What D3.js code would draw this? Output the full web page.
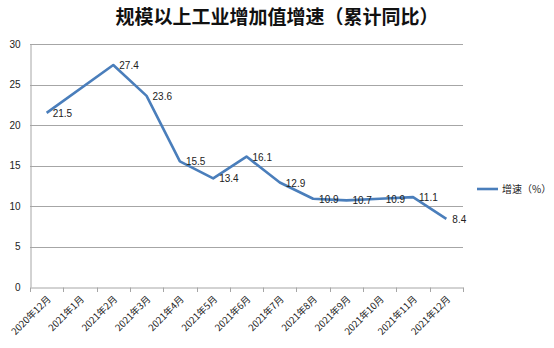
<!DOCTYPE html>
<html><head><meta charset="utf-8">
<script src="https://cdn.jsdelivr.net/npm/d3@7"></script>
<style>body{margin:0;background:#fff}svg{display:block}</style>
</head><body>
<script>
const categories = ["2020年12月","2021年1月","2021年2月","2021年3月","2021年4月","2021年5月","2021年6月","2021年7月","2021年8月","2021年9月","2021年10月","2021年11月","2021年12月"];
const values = [21.5, null, 27.4, 23.6, 15.5, 13.4, 16.1, 12.9, 10.9, 10.7, 10.9, 11.1, 8.4];
const yTicks = [0,5,10,15,20,25,30];
const seriesName = "增速（%）";
const title = "规模以上工业增加值增速（累计同比）";

const W = 554, H = 348;
const svg = d3.select("body").append("svg").attr("width", W).attr("height", H);
const x = d3.scaleBand().domain(categories).range([30, 463]);
const y = d3.scaleLinear().domain([0, 30]).range([287, 44]);
const font = "'Liberation Sans', Arial, sans-serif";

svg.append("text").attr("x", 277).attr("y", 24).attr("text-anchor", "middle")
  .attr("font-family", "'Noto Sans CJK SC', sans-serif").attr("font-weight", "bold")
  .attr("font-size", 19).attr("fill", "#111").text(title);

// gridlines
svg.append("g").selectAll("line").data(yTicks.filter(d => d > 0)).join("line")
  .attr("x1", 30).attr("x2", 463).attr("y1", d => Math.round(y(d)) + 0.5).attr("y2", d => Math.round(y(d)) + 0.5)
  .attr("stroke", "#a6a6a6").attr("stroke-width", 1);

// y axis
const ya = svg.append("g").attr("transform", "translate(30.5,0)")
  .call(d3.axisLeft(y).tickValues(yTicks).tickSize(0).tickPadding(10));
ya.select(".domain").attr("stroke", "#a6a6a6");
ya.selectAll("text").attr("font-family", font).attr("font-size", 10).attr("fill", "#222");

// x axis
const xa = svg.append("g").attr("transform", `translate(0,${Math.round(y(0)) + 0.5})`)
  .call(d3.axisBottom(x).tickSize(0));
xa.select(".domain").attr("stroke", "#a6a6a6");
xa.selectAll(".tick text").remove();
svg.append("g").selectAll("line").data(d3.range(categories.length + 1)).join("line")
  .attr("x1", i => Math.round(30 + i * x.step()) + 0.5).attr("x2", i => Math.round(30 + i * x.step()) + 0.5)
  .attr("y1", Math.round(y(0)) + 0.5).attr("y2", Math.round(y(0)) + 5)
  .attr("stroke", "#a6a6a6");
svg.append("g").selectAll("text").data(categories).join("text")
  .attr("transform", d => `translate(${x(d) + x.bandwidth() / 2},${y(0) + 8}) rotate(-45)`)
  .attr("text-anchor", "end").attr("dy", "0.7em")
  .attr("font-family", "'Noto Sans CJK SC', sans-serif").attr("font-size", 9.5).attr("fill", "#222")
  .text(d => d);

// line
const pts = categories.map((c, i) => ({c, v: values[i]})).filter(d => d.v != null);
const line = d3.line().x(d => x(d.c) + x.bandwidth() / 2).y(d => y(d.v));
svg.append("path").datum(pts).attr("d", line).attr("fill", "none")
  .attr("stroke", "#4a7ebb").attr("stroke-width", 2.6).attr("stroke-linejoin", "round");

// labels
svg.append("g").selectAll("text").data(pts).join("text")
  .attr("x", d => x(d.c) + x.bandwidth() / 2 + 6).attr("y", d => y(d.v) + 4)
  .attr("font-family", font).attr("font-size", 10).attr("fill", "#222")
  .text(d => d.v.toFixed(1));

// legend
svg.append("line").attr("x1", 477).attr("x2", 498).attr("y1", 189).attr("y2", 189)
  .attr("stroke", "#4a7ebb").attr("stroke-width", 2.6);
svg.append("text").attr("x", 502).attr("y", 193)
  .attr("font-family", "'Noto Sans CJK SC', sans-serif").attr("font-size", 10).attr("fill", "#222")
  .text(seriesName);
</script>
</body></html>
